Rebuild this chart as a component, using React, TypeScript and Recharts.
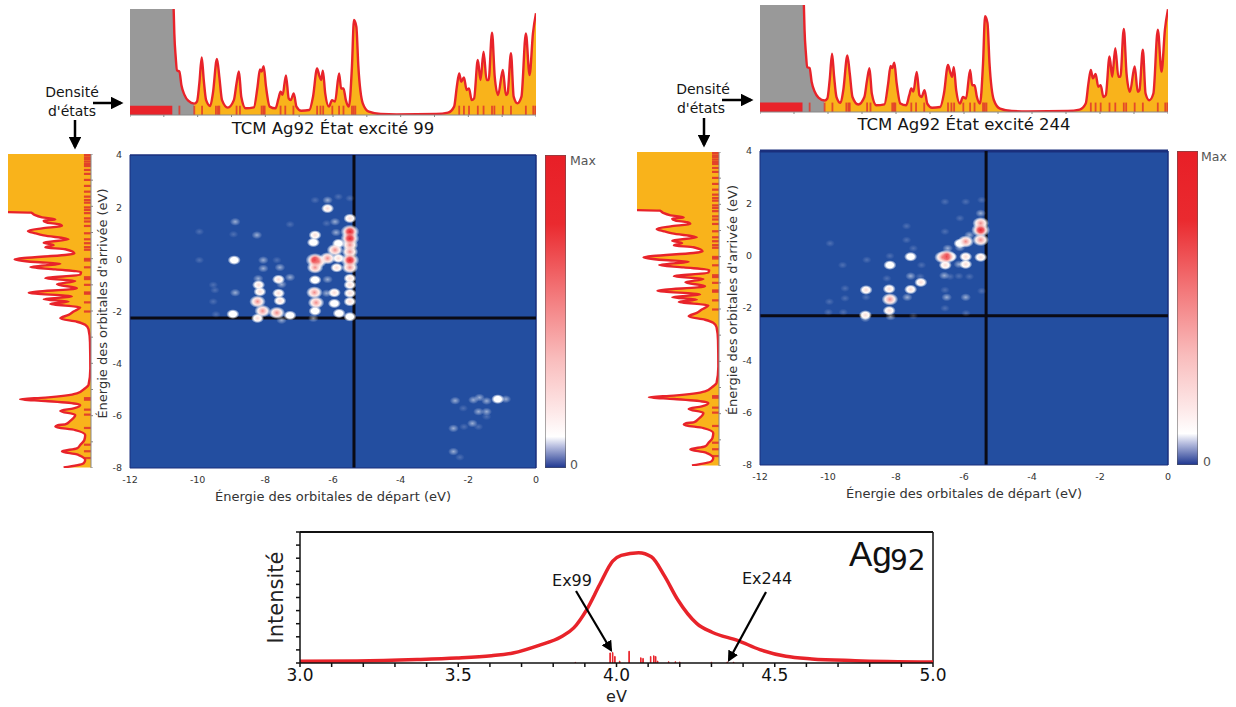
import React from 'react';
import {
  ComposedChart, ScatterChart, BarChart, Area, Line, Bar, Scatter, XAxis, YAxis,
  ReferenceLine, ReferenceArea, CartesianGrid,
} from 'recharts';

const FONT = '"DejaVu Sans", sans-serif';
const ORANGE = '#f9b31b';
const RED = '#e8232a';
const GREY = '#999999';
const BLUE = '#234ea0';
const blank = () => '';

// Density of states, start orbitals (energy eV, density)
const dosStart: number[][] = [
  [-10.71,1],[-10.69,.77],[-10.65,.55],[-10.61,.42],[-10.54,.41],[-10.48,.28],[-10.39,.19],[-10.28,.135],[-10.10,.107],
  [-10.02,.126],[-9.95,.30],[-9.88,.544],[-9.82,.33],[-9.75,.14],[-9.63,.085],[-9.55,.204],[-9.43,.528],[-9.36,.36],[-9.28,.14],
  [-9.11,.07],[-8.93,.14],[-8.85,.30],[-8.78,.41],[-8.71,.17],[-8.58,.063],[-8.34,.072],[-8.23,.267],[-8.16,.43],[-8.11,.41],
  [-8.05,.46],[-7.98,.267],[-7.87,.079],[-7.70,.063],[-7.61,.157],[-7.55,.22],[-7.49,.19],[-7.39,.374],[-7.31,.157],[-7.25,.14],
  [-7.16,.204],[-7.08,.079],[-6.94,.04],[-6.70,.047],[-6.59,.173],[-6.47,.44],[-6.41,.377],[-6.35,.33],[-6.30,.418],[-6.23,.204],
  [-6.12,.079],[-6.03,.14],[-5.94,.126],[-5.82,.393],[-5.76,.25],[-5.69,.25],[-5.62,.14],[-5.53,.079],[-5.44,.456],[-5.38,.896],
  [-5.31,.833],[-5.25,.456],[-5.12,.11],[-4.94,.031],[-4.59,.009],[-4.12,.006],[-2.95,.009],[-2.60,.022],[-2.42,.079],[-2.34,.267],
  [-2.27,.393],[-2.21,.314],[-2.13,.355],[-2.05,.236],[-1.98,.25],[-1.90,.14],[-1.83,.157],[-1.72,.519],[-1.64,.33],[-1.55,.597],
  [-1.46,.33],[-1.40,.33],[-1.30,.777],[-1.22,.362],[-1.12,.189],[-.98,.425],[-.89,.189],[-.84,.204],[-.74,.582],[-.66,.173],
  [-.55,.11],[-.43,.173],[-.30,.77],[-.19,.377],[-.09,.77],[0,.96],
];
const greyLimit = -10.1;
const startStates = [-10.54,-10.10,-9.87,-9.46,-9.40,-9.36,-8.85,-8.75,-8.11,-8.06,-8.02,-7.55,-7.41,-7.17,-6.47,-6.37,-6.29,-6.02,-5.82,-5.69,-5.44,-5.39,-5.34,-2.27,-2.13,-1.98,-1.72,-1.55,-1.30,-1.23,-.98,-.74,-.30,-.08,-.02];
const startBlock = [-12, -10.75];

// Density of states, arrival orbitals (energy eV, density)
const dosArrival: number[][] = [
  [-7.98,.33],[-7.82,.09],[-7.69,.07],[-7.52,.14],[-7.48,.17],[-7.37,.35],[-7.25,.17],[-7.12,.13],[-6.93,.08],[-6.74,.07],[-6.55,.19],
  [-6.42,.43],[-6.36,.40],[-6.33,.31],[-6.20,.25],[-5.97,.19],[-5.82,.37],[-5.72,.21],[-5.60,.13],[-5.55,.17],[-5.44,.55],[-5.37,.855],
  [-5.31,.55],[-5.15,.17],[-4.95,.07],[-4.83,.03],[-4.2,.008],[-3.2,.012],[-2.7,.03],[-2.53,.07],[-2.41,.17],[-2.28,.37],[-2.15,.27],
  [-2.02,.21],[-1.86,.13],[-1.73,.49],[-1.64,.27],[-1.55,.57],[-1.45,.23],[-1.30,.75],[-1.13,.17],[-.98,.41],[-.85,.19],[-.75,.55],
  [-.61,.13],[-.51,.12],[-.41,.43],[-.32,.73],[-.19,.37],[-.13,.67],[-.03,.92],[.20,.20],[.36,.31],[.43,.55],[.52,.45],[.61,.57],
  [.74,.27],[.89,.57],[.97,.67],[1.06,.76],[1.16,.59],[1.25,.35],[1.32,.39],[1.38,.53],[1.45,.57],[1.50,.43],[1.58,.59],[1.67,.68],
  [1.76,.72],[1.78,1],
];
const arrivalStates = [3.96,3.87,3.80,3.71,3.62,3.54,3.39,3.24,3.01,2.78,2.56,2.37,2.24,2.14,1.96,1.86,1.74,1.54,1.42,1.25,.97,.74,.59,.44,.34,-.01,-.07,-.33,-.71,-.78,-1.0,-1.29,-1.34,-1.67,-2.02,-5.33,-5.39,-5.77,-5.96,-6.47,-7.11,-7.36,-7.62];

// Transition maps [start energy, arrival energy, level]
const map99: number[][] = [
  [-5.5,1.06,1],[-5.5,.8,.9],[-5.5,.55,.85],[-5.5,.29,.8],[-5.5,-.03,1],[-5.5,-.31,.7],[-5.5,1.57,.55],
  [-6.53,-.03,1],[-6.53,-.31,.85],[-6.43,-.09,.8],[-6.16,.04,.75],[-5.94,.36,.75],[-5.84,.61,.5],[-5.84,.04,.65],[-5.89,-.32,.6],
  [-6.53,.93,.6],[-6.58,.65,.45],[-6.16,1.95,.55],[-6.16,2.27,.25],[-5.91,1.03,.35],[-5.94,1.44,.25],[-6.19,1.38,.15],[-6.53,2.27,.15],[-5.84,2.40,.15],[-5.5,2.34,.15],
  [-6.53,-.79,.5],[-6.16,-.77,.25],[-5.5,-.73,.55],[-5.5,-.98,.55],[-6.55,-1.27,.75],[-6.5,-1.66,.7],[-6.53,-1.98,.5],[-5.96,-1.28,.6],[-6.19,-1.30,.4],[-5.96,-1.69,.5],[-5.5,-1.30,.6],[-5.5,-1.62,.6],[-5.82,-2.07,.5],[-5.5,-2.20,.5],[-6.58,-2.26,.3],
  [-7.61,-.77,.55],[-7.27,-.69,.3],[-7.52,-.96,.3],[-7.61,-1.30,.65],[-7.57,-1.59,.6],[-7.66,-2.05,.7],[-7.27,-2.15,.5],[-7.52,-2.33,.4],
  [-8.21,-.74,.25],[-8.2,-.98,.55],[-8.16,-1.24,.6],[-8.23,-1.62,.85],[-8.08,-1.98,.75],[-8.23,-2.26,.65],[-8.06,-.03,.25],[-8.06,-.35,.25],[-7.66,-.03,.2],[-7.57,-.31,.25],
  [-8.92,-.03,.45],[-8.89,-1.28,.35],[-8.96,-2.10,.5],[-8.89,1.44,.38],[-8.25,.93,.35],[-8.94,.96,.15],[-9.95,1.06,.15],[-9.95,-.03,.15],[-7.27,1.34,.15],[-9.54,-.98,.2],[-9.49,-1.18,.15],[-9.54,-1.62,.2],[-9.46,-2.11,.15],
  [-2.39,-5.42,.3],[-1.85,-5.39,.38],[-1.67,-5.30,.3],[-1.46,-5.43,.3],[-1.13,-5.36,.5],[-.89,-5.36,.25],[-2.15,-5.71,.15],[-1.70,-5.84,.3],[-1.46,-5.84,.3],[-1.46,-6.03,.15],[-1.88,-6.29,.38],[-1.70,-6.42,.2],[-2.13,-6.42,.2],[-2.44,-6.48,.25],[-2.44,-7.37,.25],[-2.25,-7.59,.2],
];
const map244: number[][] = [
  [-5.51,.98,1],[-5.51,1.24,.8],[-5.51,.6,.75],[-5.51,-.06,.6],[-5.51,1.62,.25],[-5.48,2.13,.15],[-5.48,-1.35,.2],
  [-5.95,.54,.8],[-6.12,.47,.5],[-5.84,.79,.4],[-5.95,-.04,.6],[-5.95,-.33,.55],[-6.12,.31,.3],[-6.15,-.33,.3],[-6.12,1.43,.15],[-5.95,2.06,.15],[-5.84,-.80,.15],[-6.15,-.78,.2],[-5.95,-1.59,.25],
  [-6.51,-.04,.9],[-6.63,-.06,.7],[-6.39,-.04,.6],[-6.55,-.36,.55],[-6.48,.28,.3],[-6.56,.92,.2],[-6.56,2.06,.2],[-6.58,-.76,.4],[-6.41,-.80,.2],[-6.56,-1.31,.2],[-6.51,-1.59,.25],[-6.56,-2.01,.1],
  [-7.57,-.04,.5],[-7.49,.28,.15],[-7.69,1.13,.1],[-7.69,.60,.1],[-7.57,-.78,.4],[-7.27,-1.02,.55],[-7.57,-1.29,.6],[-7.67,-1.59,.3],[-7.25,-.36,.12],[-7.29,-.80,.1],
  [-8.18,-.36,.45],[-8.18,-.01,.15],[-8.2,-1.27,.65],[-8.18,-1.67,.85],[-8.2,-2.10,.6],[-8.27,-.87,.15],[-8.16,-2.33,.25],[-8.88,-1.31,.55],[-8.88,-1.59,.2],[-8.9,-2.27,.55],[-8.9,-2.39,.4],[-8.86,-.16,.08],[-9.5,-1.25,.12],[-9.5,-1.63,.15],[-9.57,-.36,.1],[-9.94,.47,.08],[-9.96,-1.76,.15],[-9.99,-2.16,.1],[-9.55,-2.16,.1],[-7.49,-2.30,.1],[-5.94,-2.20,.08],
];

// Spectrum
const spectrumCurve: number[][] = [
  [3,.013],[3.18,.015],[3.37,.026],[3.495,.038],[3.605,.056],[3.673,.077],[3.755,.135],[3.824,.199],[3.865,.268],[3.906,.408],[3.947,.599],[3.988,.778],
  [4.015,.821],[4.07,.842],[4.11,.811],[4.152,.663],[4.193,.485],[4.254,.301],[4.302,.235],[4.384,.171],[4.453,.102],[4.535,.051],[4.617,.031],[4.754,.018],[5,.008],
];
const spectrumSticks: number[][] = [
  [3.87,.005],[3.98,.077],[3.988,.08],[3.995,.05],[4.01,.015],[4.04,.09],[4.077,.04],[4.084,.035],[4.108,.05],[4.118,.055],[4.124,.05],[4.13,.015],[4.165,.01],[4.186,.01],[4.2,.008],[4.3,.006],[4.35,.008],[4.37,.006],
];

const startTicks = [-12,-11,-10,-9,-8,-7,-6,-5,-4,-3,-2,-1,0];
const mapXTicks = [-12,-10,-8,-6,-4,-2,0];
const mapYTicks = [-8,-6,-4,-2,0,2,4];
const arrivalTicks = [-8,-7,-6,-5,-4,-3,-2,-1,0,1,2,3,4];
const spectrumTicks = [3,3.1,3.2,3.3,3.4,3.5,3.6,3.7,3.8,3.9,4,4.1,4.2,4.3,4.4,4.5,4.6,4.7,4.8,4.9,5];
const intensityTicks = [0,.1,.2,.3,.4,.5,.6,.7,.8,.9,1];
const scaleTicks = [1,2,3,4];
const scaleRow = [{ c: 'scale', v: 5 }];

const startRows = [
  { e: -12, grey: 1 },
  { e: -10.72, grey: 1 },
  ...dosStart.map(([e, d]) => ({ e, d, grey: e <= greyLimit ? d : undefined, fill: e >= greyLimit ? d : undefined })),
];

const arrivalRows = [
  ...dosArrival.map(([e, d]) => ({ e, d, fill: d })),
  { e: 1.79, fill: 1 },
  { e: 4, fill: 1 },
];

function TopDos({ left, top, width, height }: any) {
  return (
    <div style={{ position: 'absolute', left, top }}>
      <ComposedChart width={width} height={height + 4} data={startRows} margin={{ top: 0, right: 0, left: 0, bottom: 0 }}>
        <XAxis type="number" dataKey="e" domain={[-12, 0]} ticks={startTicks} interval={0} height={4} tickFormatter={blank} tickSize={2} stroke="#888" allowDataOverflow />
        <YAxis type="number" domain={[0, 1]} hide allowDataOverflow />
        <Area dataKey="grey" type="linear" fill={GREY} fillOpacity={1} stroke="none" isAnimationActive={false} />
        <Area dataKey="fill" type="monotone" fill={ORANGE} fillOpacity={1} stroke="none" isAnimationActive={false} />
        <ReferenceArea x1={startBlock[0]} x2={startBlock[1]} y1={0} y2={0.088} fill={RED} fillOpacity={1} stroke="none" />
        {startStates.map((e) => (
          <ReferenceLine key={e} segment={[{ x: e, y: 0 }, { x: e, y: 0.088 }]} stroke="#e0362b" strokeWidth={1.8} strokeOpacity={0.85} />
        ))}
        <Line dataKey="d" type="monotone" stroke={RED} strokeWidth={2.4} dot={false} connectNulls isAnimationActive={false} />
      </ComposedChart>
    </div>
  );
}

function SideDos({ left, top, width, height }: any) {
  return (
    <div style={{ position: 'absolute', left, top }}>
      <ComposedChart layout="vertical" width={width + 4} height={height} data={arrivalRows} margin={{ top: 0, right: 0, left: 0, bottom: 0 }}>
        <XAxis type="number" domain={[0, 1]} reversed hide allowDataOverflow />
        <YAxis type="number" dataKey="e" domain={[-8, 4]} reversed ticks={arrivalTicks} interval={0} orientation="right" width={4} tickFormatter={blank} tickSize={2} stroke="#888" allowDataOverflow />
        <Area dataKey="fill" type="monotone" fill={ORANGE} fillOpacity={1} stroke="none" isAnimationActive={false} />
        {arrivalStates.map((e) => (
          <ReferenceLine key={e} segment={[{ x: 0, y: e }, { x: 0.085, y: e }]} stroke="#e0362b" strokeWidth={2.2} strokeOpacity={0.9} />
        ))}
        <Line dataKey="d" type="monotone" stroke={RED} strokeWidth={2.4} dot={false} isAnimationActive={false} />
      </ComposedChart>
    </div>
  );
}

function haloSize(v: number) {
  if (v >= 0.9) return 8;
  if (v >= 0.7) return 7;
  if (v >= 0.45) return 5.5;
  if (v >= 0.25) return 4.5;
  return 4;
}

function haloFill(v: number) {
  if (v >= 0.45) return 'url(#halo)';
  if (v >= 0.25) return 'url(#faint)';
  return 'url(#dim)';
}

function Halo(props: any) {
  const { cx, cy, payload } = props;
  const r = haloSize(payload.v);
  return <ellipse cx={cx} cy={cy} rx={r * 1.2} ry={r * 0.9} fill={haloFill(payload.v)} />;
}

function Core(props: any) {
  const { cx, cy, payload } = props;
  const v = payload.v;
  if (v < 0.55) return <g />;
  const id = v >= 0.9 ? 'coreHot' : v >= 0.7 ? 'coreWarm' : 'corePale';
  const r = v >= 0.9 ? 6 : v >= 0.7 ? 5.5 : 4;
  return <ellipse cx={cx} cy={cy} rx={r * 1.1} ry={r} fill={`url(#${id})`} />;
}

function HeatMap({ left, top, width, height, points, lineX, lineY, thickTop }: any) {
  const rows = points.map(([x, y, v]: number[]) => ({ x, y, v }));
  return (
    <div style={{ position: 'absolute', left: left - 50, top: top - 5 }}>
      <ScatterChart width={width + 56} height={height + 50} margin={{ top: 5, right: 6, left: 0, bottom: 0 }}>
        <defs>
          <radialGradient id="halo">
            <stop offset="0%" stopColor="#ffffff" />
            <stop offset="55%" stopColor="#ffffff" />
            <stop offset="100%" stopColor="#ffffff" stopOpacity={0} />
          </radialGradient>
          <radialGradient id="faint">
            <stop offset="0%" stopColor="#ffffff" stopOpacity={0.55} />
            <stop offset="100%" stopColor="#ffffff" stopOpacity={0} />
          </radialGradient>
          <radialGradient id="dim">
            <stop offset="0%" stopColor="#d8dcf0" stopOpacity={0.25} />
            <stop offset="100%" stopColor="#d8dcf0" stopOpacity={0} />
          </radialGradient>
          <radialGradient id="coreHot">
            <stop offset="0%" stopColor="#e8202a" />
            <stop offset="45%" stopColor="#ec4148" stopOpacity={0.85} />
            <stop offset="100%" stopColor="#f8b0a8" stopOpacity={0} />
          </radialGradient>
          <radialGradient id="coreWarm">
            <stop offset="0%" stopColor="#ef6a68" stopOpacity={0.8} />
            <stop offset="100%" stopColor="#f9b8b0" stopOpacity={0} />
          </radialGradient>
          <radialGradient id="corePale">
            <stop offset="0%" stopColor="#f8b4a8" stopOpacity={0.5} />
            <stop offset="100%" stopColor="#fde0d8" stopOpacity={0} />
          </radialGradient>
        </defs>
        <CartesianGrid horizontal={false} vertical={false} fill={BLUE} fillOpacity={1} />
        <XAxis
          type="number" dataKey="x" domain={[-12, 0]} ticks={mapXTicks} height={45} tickLine={false} stroke="#1a2f7c"
          tick={{ fontSize: 9.5, fontFamily: FONT, fill: '#333' }} allowDataOverflow
          label={{ value: 'Énergie des orbitales de départ (eV)', position: 'insideBottom', offset: 12, fontSize: 13, fontFamily: FONT, fill: '#333' }}
        />
        <YAxis
          type="number" dataKey="y" domain={[-8, 4]} ticks={mapYTicks} width={50} tickLine={false} stroke="#1a2f7c"
          tick={{ fontSize: 9.5, fontFamily: FONT, fill: '#333' }} allowDataOverflow
          label={{ value: "Énergie des orbitales d'arrivée (eV)", angle: -90, position: 'insideLeft', textAnchor: 'middle', offset: 22, dy: -8, fontSize: 13, fontFamily: FONT, fill: '#333' }}
        />
        <Scatter data={rows} shape={Halo} isAnimationActive={false} />
        <Scatter data={rows} shape={Core} isAnimationActive={false} />
        <ReferenceLine y={4} stroke="#1a2f7c" strokeWidth={thickTop ? 3 : 1.5} />
        <ReferenceLine x={0} stroke="#1a2f7c" strokeWidth={1.5} />
        <ReferenceLine x={lineX} stroke="#0a0a14" strokeWidth={3} />
        <ReferenceLine y={lineY} stroke="#0a0a14" strokeWidth={3} />
      </ScatterChart>
    </div>
  );
}

function ColorScale({ left, top, width, height }: any) {
  return (
    <div style={{ position: 'absolute', left, top }}>
      <BarChart width={width} height={height} data={scaleRow} margin={{ top: 0, right: 0, left: 0, bottom: 0 }} barCategoryGap={0}>
        <defs>
          <linearGradient id={`scale${left}`} x1="0" y1="0" x2="0" y2="1">
            <stop offset="0%" stopColor="#e81f27" />
            <stop offset="22%" stopColor="#ea2a2f" />
            <stop offset="45%" stopColor="#f37a7c" />
            <stop offset="65%" stopColor="#f9bcbc" />
            <stop offset="82%" stopColor="#fde8e8" />
            <stop offset="90%" stopColor="#ffffff" />
            <stop offset="93%" stopColor="#b9bfe0" />
            <stop offset="100%" stopColor="#1c358f" />
          </linearGradient>
        </defs>
        <XAxis dataKey="c" hide />
        <YAxis yAxisId="l" type="number" domain={[0, 5]} ticks={scaleTicks} interval={0} mirror tickFormatter={blank} tickSize={3} axisLine={false} stroke="#222" width={0} />
        <YAxis yAxisId="r" type="number" orientation="right" domain={[0, 5]} ticks={scaleTicks} interval={0} mirror tickFormatter={blank} tickSize={3} axisLine={false} stroke="#222" width={0} />
        <Bar yAxisId="l" dataKey="v" fill={`url(#scale${left})`} stroke="#555" strokeWidth={1} isAnimationActive={false} />
      </BarChart>
    </div>
  );
}

const spectrumRows = [
  ...spectrumCurve.map(([ev, y]) => ({ ev, y })),
  ...spectrumSticks.map(([ev, s]) => ({ ev, s })),
].sort((a: any, b: any) => a.ev - b.ev);

function Spectrum() {
  return (
    <div style={{ position: 'absolute', left: 255, top: 526 }}>
      <ComposedChart width={708} height={179} data={spectrumRows} margin={{ top: 6, right: 30, left: 0, bottom: 0 }}>
        <XAxis
          type="number" dataKey="ev" domain={[3, 5]} ticks={spectrumTicks} interval={0} height={42} tickSize={4} stroke="#111" strokeWidth={1.5}
          tick={{ fontSize: 17, fontFamily: FONT, fill: '#111' }} allowDataOverflow
          tickFormatter={(v: number) => (Math.abs(v * 2 - Math.round(v * 2)) < 1e-6 ? v.toFixed(1) : '')}
          label={{ value: 'eV', position: 'insideBottom', offset: 3, fontSize: 16, fontFamily: FONT, fill: '#222' }}
        />
        <YAxis
          type="number" domain={[0, 1]} ticks={intensityTicks} interval={0} width={45} tickFormatter={blank} tickSize={4} stroke="#111" strokeWidth={1.5} allowDataOverflow
          label={{ value: 'Intensité', angle: -90, position: 'insideLeft', textAnchor: 'middle', offset: 21, fontSize: 21, fontFamily: FONT, fill: '#222' }}
        />
        <ReferenceLine y={1} stroke="#111" strokeWidth={2} />
        <ReferenceLine x={5} stroke="#111" strokeWidth={1.5} />
        <Bar dataKey="s" barSize={2} fill={RED} stroke={RED} strokeWidth={1} isAnimationActive={false} />
        <Line dataKey="y" type="monotone" stroke={RED} strokeWidth={3.5} dot={false} connectNulls isAnimationActive={false} />
      </ComposedChart>
    </div>
  );
}

function Arrow({ x1, y1, x2, y2, w = 2.5 }: any) {
  return <line x1={x1} y1={y1} x2={x2} y2={y2} stroke="#000" strokeWidth={w} markerEnd="url(#arrowHead)" />;
}

function Overlay() {
  const t = { fontFamily: FONT, fill: '#151515' } as any;
  return (
    <svg width={1236} height={707} style={{ position: 'absolute', left: 0, top: 0, pointerEvents: 'none' }}>
      <defs>
        <marker id="arrowHead" markerWidth="5" markerHeight="5" refX="4" refY="2.5" orient="auto" markerUnits="strokeWidth">
          <path d="M0,0 L5,2.5 L0,5 Z" fill="#000" />
        </marker>
      </defs>
      <text x={333} y={134} textAnchor="middle" fontSize={16.5} {...t}>TCM Ag92 État excité 99</text>
      <text x={964} y={130} textAnchor="middle" fontSize={16.5} {...t}>TCM Ag92 État excité 244</text>
      <text x={72} y={97} textAnchor="middle" fontSize={14} {...t}>Densité</text>
      <text x={72} y={116} textAnchor="middle" fontSize={14} {...t}>d'états</text>
      <text x={703} y={94} textAnchor="middle" fontSize={14} {...t}>Densité</text>
      <text x={701} y={113} textAnchor="middle" fontSize={14} {...t}>d'états</text>
      <Arrow x1={93} y1={103} x2={121} y2={103} />
      <Arrow x1={75} y1={120} x2={75} y2={147} />
      <Arrow x1={722} y1={100} x2={751} y2={100} />
      <Arrow x1={704} y1={118} x2={704} y2={145} />
      <text x={570} y={165} fontSize={12.5} fontFamily={FONT} fill="#555">Max</text>
      <text x={570} y={469} fontSize={12.5} fontFamily={FONT} fill="#555">0</text>
      <text x={1201} y={161} fontSize={12.5} fontFamily={FONT} fill="#555">Max</text>
      <text x={1203} y={466} fontSize={12.5} fontFamily={FONT} fill="#555">0</text>
      <text x={572} y={586} textAnchor="middle" fontSize={16} {...t}>Ex99</text>
      <text x={767} y={584} textAnchor="middle" fontSize={16} {...t}>Ex244</text>
      <Arrow x1={576} y1={591} x2={611} y2={650} w={2.2} />
      <Arrow x1={766} y1={592} x2={729} y2={660} w={2.2} />
      <text x={849} y={566} fontSize={35} fontFamily='"Liberation Sans", sans-serif' fill="#111">Ag</text>
      <text x={890} y={570} fontSize={28} fontFamily={FONT} fill="#111">92</text>
    </svg>
  );
}

export default function App() {
  return (
    <div style={{ position: 'absolute', left: 0, top: 0, width: 1236, height: 707, background: '#fff', overflow: 'hidden' }}>
      <TopDos left={130} top={9} width={406} height={106} />
      <TopDos left={760} top={5} width={408} height={107} />
      <SideDos left={8} top={154} width={83} height={314} />
      <SideDos left={637} top={152} width={82} height={314} />
      <HeatMap left={130} top={155} width={406} height={313} points={map99} lineX={-5.38} lineY={-2.25} />
      <HeatMap left={760} top={151} width={408} height={314} points={map244} lineX={-5.35} lineY={-2.3} thickTop />
      <ColorScale left={545} top={155} width={21} height={313} />
      <ColorScale left={1177} top={151} width={21} height={314} />
      <Spectrum />
      <Overlay />
    </div>
  );
}
